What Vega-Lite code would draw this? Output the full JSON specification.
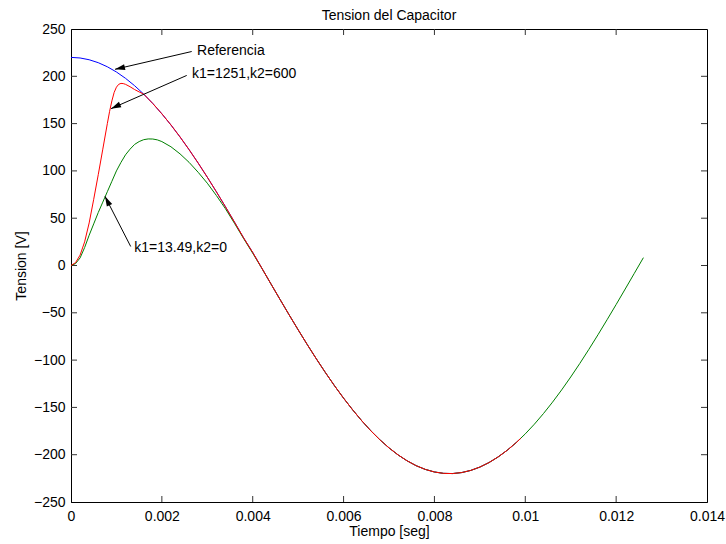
{
  "$schema": "https://vega.github.io/schema/vega-lite/v6.json",
  "width": 636,
  "height": 473,
  "autosize": "none",
  "padding": {"left": 71, "top": 29, "right": 19, "bottom": 42},
  "title": {"text": "Tension del Capacitor", "font": "Liberation Sans", "fontSize": 14, "fontWeight": "normal", "color": "black", "offset": -1},
  "config": {
    "view": {"stroke": "black", "strokeWidth": 1},
    "axis": {"labelFont": "Liberation Sans", "labelFontSize": 14, "grid": false}
  },
  "datasets": {
    "ref": [
      {"t": 0, "v": 220}, {"t": 0.0002, "v": 219.37}, {"t": 0.0004, "v": 217.5}, {"t": 0.0006, "v": 214.4}, {"t": 0.0008, "v": 210.07},
      {"t": 0.001, "v": 204.55}, {"t": 0.0012, "v": 197.87}, {"t": 0.0014, "v": 190.06}, {"t": 0.0016, "v": 181.18}, {"t": 0.0018, "v": 171.27},
      {"t": 0.002, "v": 160.37}, {"t": 0.0022, "v": 148.56}, {"t": 0.0024, "v": 135.89}, {"t": 0.0026, "v": 122.42}, {"t": 0.0028, "v": 108.23},
      {"t": 0.003, "v": 93.38}, {"t": 0.0032, "v": 77.97}, {"t": 0.0034, "v": 62.06}, {"t": 0.0036, "v": 45.76}, {"t": 0.0038, "v": 29.15},
      {"t": 0.004, "v": 13.81}, {"t": 0.0042, "v": -2.77}, {"t": 0.0044, "v": -19.33}, {"t": 0.0046, "v": -35.79}, {"t": 0.0048, "v": -52.03},
      {"t": 0.005, "v": -67.98}, {"t": 0.0052, "v": -83.55}, {"t": 0.0054, "v": -98.65}, {"t": 0.0056, "v": -113.17}, {"t": 0.0058, "v": -127.09},
      {"t": 0.006, "v": -140.23}, {"t": 0.0062, "v": -152.59}, {"t": 0.0064, "v": -164.12}, {"t": 0.0066, "v": -174.72}, {"t": 0.0068, "v": -184.25},
      {"t": 0.007, "v": -192.79}, {"t": 0.0072, "v": -200.22}, {"t": 0.0074, "v": -206.51}, {"t": 0.0076, "v": -211.68}, {"t": 0.0078, "v": -215.56},
      {"t": 0.008, "v": -218.26}, {"t": 0.0082, "v": -219.74}, {"t": 0.0084, "v": -219.93}, {"t": 0.0086, "v": -218.89}, {"t": 0.0088, "v": -216.61},
      {"t": 0.009, "v": -213.09}, {"t": 0.0092, "v": -208.36}, {"t": 0.0094, "v": -202.44}, {"t": 0.0096, "v": -195.38}, {"t": 0.0098, "v": -187.22},
      {"t": 0.0099, "v": -182.73}
    ],
    "green": [
      {"t": 0, "v": 0}, {"t": 0.0001, "v": 2}, {"t": 0.0002, "v": 8}, {"t": 0.0003, "v": 19}, {"t": 0.0004, "v": 32},
      {"t": 0.0005, "v": 44}, {"t": 0.0006, "v": 56}, {"t": 0.0007, "v": 67}, {"t": 0.0008, "v": 78}, {"t": 0.0009, "v": 89},
      {"t": 0.001, "v": 100}, {"t": 0.0011, "v": 109}, {"t": 0.0012, "v": 117}, {"t": 0.0013, "v": 123}, {"t": 0.0014, "v": 128},
      {"t": 0.0015, "v": 131}, {"t": 0.0016, "v": 133}, {"t": 0.0017, "v": 133.8}, {"t": 0.0018, "v": 133.7}, {"t": 0.0019, "v": 132.8},
      {"t": 0.002, "v": 131}, {"t": 0.0022, "v": 125.5}, {"t": 0.0024, "v": 118}, {"t": 0.0026, "v": 109}, {"t": 0.0028, "v": 98.5},
      {"t": 0.003, "v": 87}, {"t": 0.0032, "v": 74}, {"t": 0.0034, "v": 60}, {"t": 0.0036, "v": 44.5}, {"t": 0.0038, "v": 28.5},
      {"t": 0.004, "v": 13}, {"t": 0.0042, "v": -2.9}, {"t": 0.0044, "v": -19.4}, {"t": 0.0046, "v": -35.79}, {"t": 0.0048, "v": -52.03},
      {"t": 0.005, "v": -67.98}, {"t": 0.0052, "v": -83.55}, {"t": 0.0054, "v": -98.65}, {"t": 0.0056, "v": -113.17}, {"t": 0.0058, "v": -127.09},
      {"t": 0.006, "v": -140.23}, {"t": 0.0062, "v": -152.59}, {"t": 0.0064, "v": -164.12}, {"t": 0.0066, "v": -174.72}, {"t": 0.0068, "v": -184.25},
      {"t": 0.007, "v": -192.79}, {"t": 0.0072, "v": -200.22}, {"t": 0.0074, "v": -206.51}, {"t": 0.0076, "v": -211.68}, {"t": 0.0078, "v": -215.56},
      {"t": 0.008, "v": -218.26}, {"t": 0.0082, "v": -219.74}, {"t": 0.0084, "v": -219.93}, {"t": 0.0086, "v": -218.89}, {"t": 0.0088, "v": -216.61},
      {"t": 0.009, "v": -213.09}, {"t": 0.0092, "v": -208.36}, {"t": 0.0094, "v": -202.44}, {"t": 0.0096, "v": -195.38}, {"t": 0.0098, "v": -187.22},
      {"t": 0.01, "v": -177.98}, {"t": 0.0102, "v": -167.75}, {"t": 0.0104, "v": -156.53}, {"t": 0.0106, "v": -144.45}, {"t": 0.0108, "v": -131.54},
      {"t": 0.011, "v": -117.88}, {"t": 0.0112, "v": -103.55}, {"t": 0.0114, "v": -88.64}, {"t": 0.0116, "v": -73.22}, {"t": 0.0118, "v": -57.38},
      {"t": 0.012, "v": -41.23}, {"t": 0.0122, "v": -24.84}, {"t": 0.0124, "v": -8.29}, {"t": 0.0126, "v": 8.29}
    ],
    "red": [
      {"t": 0, "v": 0}, {"t": 0.0001, "v": 3}, {"t": 0.0002, "v": 11}, {"t": 0.0003, "v": 25}, {"t": 0.0004, "v": 45},
      {"t": 0.0005, "v": 70}, {"t": 0.0006, "v": 96}, {"t": 0.0007, "v": 123}, {"t": 0.0008, "v": 150}, {"t": 0.00085, "v": 163},
      {"t": 0.0009, "v": 174}, {"t": 0.00095, "v": 183}, {"t": 0.001, "v": 188.5}, {"t": 0.00105, "v": 191.5}, {"t": 0.0011, "v": 192.5},
      {"t": 0.00115, "v": 192.3}, {"t": 0.0012, "v": 191.5}, {"t": 0.0013, "v": 189}, {"t": 0.0014, "v": 186}, {"t": 0.0015, "v": 183.5},
      {"t": 0.0016, "v": 181.18}, {"t": 0.0018, "v": 171.27},
      {"t": 0.002, "v": 160.37}, {"t": 0.0022, "v": 148.56}, {"t": 0.0024, "v": 135.89}, {"t": 0.0026, "v": 122.42}, {"t": 0.0028, "v": 108.23},
      {"t": 0.003, "v": 93.38}, {"t": 0.0032, "v": 77.97}, {"t": 0.0034, "v": 62.06}, {"t": 0.0036, "v": 45.76}, {"t": 0.0038, "v": 29.15},
      {"t": 0.004, "v": 13.81}, {"t": 0.0042, "v": -2.77}, {"t": 0.0044, "v": -19.33}, {"t": 0.0046, "v": -35.79}, {"t": 0.0048, "v": -52.03},
      {"t": 0.005, "v": -67.98}, {"t": 0.0052, "v": -83.55}, {"t": 0.0054, "v": -98.65}, {"t": 0.0056, "v": -113.17}, {"t": 0.0058, "v": -127.09},
      {"t": 0.006, "v": -140.23}, {"t": 0.0062, "v": -152.59}, {"t": 0.0064, "v": -164.12}, {"t": 0.0066, "v": -174.72}, {"t": 0.0068, "v": -184.25},
      {"t": 0.007, "v": -192.79}, {"t": 0.0072, "v": -200.22}, {"t": 0.0074, "v": -206.51}, {"t": 0.0076, "v": -211.68}, {"t": 0.0078, "v": -215.56},
      {"t": 0.008, "v": -218.26}, {"t": 0.0082, "v": -219.74}, {"t": 0.0084, "v": -219.93}, {"t": 0.0086, "v": -218.89}, {"t": 0.0088, "v": -216.61},
      {"t": 0.009, "v": -213.09}, {"t": 0.0092, "v": -208.36}, {"t": 0.0094, "v": -202.44}, {"t": 0.0096, "v": -195.38}, {"t": 0.0098, "v": -187.22},
      {"t": 0.0099, "v": -182.73}
    ],
    "notes": [
      {"label": "Referencia", "tx": 0.002752, "tv": 226.5, "t1": 0.002657, "v1": 226.2, "t2": 0.000969, "v2": 207.4},
      {"label": "k1=1251,k2=600", "tx": 0.002642, "tv": 202.1, "t1": 0.002547, "v1": 200.9, "t2": 0.000881, "v2": 165.8},
      {"label": "k1=13.49,k2=0", "tx": 0.001371, "tv": 18.4, "t1": 0.001314, "v1": 20.1, "t2": 0.000748, "v2": 73.1}
    ],
    "xticks": [
      {"t": 0.002, "v": -250}, {"t": 0.004, "v": -250}, {"t": 0.006, "v": -250}, {"t": 0.008, "v": -250}, {"t": 0.01, "v": -250}, {"t": 0.012, "v": -250},
      {"t": 0.002, "v": 250}, {"t": 0.004, "v": 250}, {"t": 0.006, "v": 250}, {"t": 0.008, "v": 250}, {"t": 0.01, "v": 250}, {"t": 0.012, "v": 250}
    ],
    "yticks": [
      {"t": 0, "v": -200}, {"t": 0, "v": -150}, {"t": 0, "v": -100}, {"t": 0, "v": -50}, {"t": 0, "v": 0}, {"t": 0, "v": 50}, {"t": 0, "v": 100}, {"t": 0, "v": 150}, {"t": 0, "v": 200},
      {"t": 0.014, "v": -200}, {"t": 0.014, "v": -150}, {"t": 0.014, "v": -100}, {"t": 0.014, "v": -50}, {"t": 0.014, "v": 0}, {"t": 0.014, "v": 50}, {"t": 0.014, "v": 100}, {"t": 0.014, "v": 150}, {"t": 0.014, "v": 200}
    ]
  },
  "layer": [
    {
      "data": {"name": "ref"},
      "mark": {"type": "line", "color": "#0000ff", "strokeWidth": 1},
      "encoding": {
        "x": {"field": "t", "type": "quantitative", "scale": {"domain": [0, 0.014], "nice": false, "zero": false},
              "axis": {"orient": "bottom", "values": [0, 0.002, 0.004, 0.006, 0.008, 0.01, 0.012, 0.014], "format": "~g", "title": "Tiempo [seg]", "ticks": false, "tickSize": 0, "labelPadding": 7, "titlePadding": 1, "titleFont": "Liberation Sans", "titleFontSize": 14, "titleFontWeight": "normal", "titleColor": "black", "labelColor": "black", "domainColor": "black", "labelFlush": false, "labelOverlap": false}},
        "y": {"field": "v", "type": "quantitative", "scale": {"domain": [-250, 250], "nice": false, "zero": false},
              "axis": {"orient": "left", "values": [-250, -200, -150, -100, -50, 0, 50, 100, 150, 200, 250], "format": "d", "title": "Tension [V]", "ticks": false, "tickSize": 0, "labelPadding": 6, "titlePadding": 5, "titleFont": "Liberation Sans", "titleFontSize": 14, "titleFontWeight": "normal", "titleColor": "black", "labelColor": "black", "domainColor": "black", "labelFlush": false, "labelOverlap": false}}
      }
    },
    {
      "data": {"name": "xticks"},
      "mark": {"type": "tick", "orient": "vertical", "size": 12, "thickness": 1, "color": "#333333", "opacity": 1, "clip": true},
      "encoding": {
        "x": {"field": "t", "type": "quantitative", "axis": null},
        "y": {"field": "v", "type": "quantitative", "axis": null}
      }
    },
    {
      "data": {"name": "yticks"},
      "mark": {"type": "tick", "orient": "horizontal", "size": 12, "thickness": 1, "color": "#333333", "opacity": 1, "clip": true},
      "encoding": {
        "x": {"field": "t", "type": "quantitative", "axis": null},
        "y": {"field": "v", "type": "quantitative", "axis": null}
      }
    },
    {
      "data": {"name": "green"},
      "mark": {"type": "line", "color": "#008000", "strokeWidth": 1},
      "encoding": {
        "x": {"field": "t", "type": "quantitative", "axis": null},
        "y": {"field": "v", "type": "quantitative", "axis": null}
      }
    },
    {
      "data": {"name": "red"},
      "mark": {"type": "line", "color": "#ff0000", "strokeWidth": 1},
      "encoding": {
        "x": {"field": "t", "type": "quantitative", "axis": null},
        "y": {"field": "v", "type": "quantitative", "axis": null}
      }
    },
    {
      "data": {"name": "notes"},
      "mark": {"type": "rule", "color": "black", "strokeWidth": 1},
      "encoding": {
        "x": {"field": "t1", "type": "quantitative", "axis": null},
        "y": {"field": "v1", "type": "quantitative", "axis": null},
        "x2": {"field": "t2"},
        "y2": {"field": "v2"}
      }
    },
    {
      "data": {"name": "notes"},
      "transform": [{"filter": "datum.label === 'Referencia'"}],
      "mark": {"type": "point", "shape": "M0,0L-1,-0.3L-1,0.3Z", "filled": true, "color": "black", "opacity": 1, "size": 400, "angle": 167, "strokeWidth": 0},
      "encoding": {
        "x": {"field": "t2", "type": "quantitative", "axis": null},
        "y": {"field": "v2", "type": "quantitative", "axis": null}
      }
    },
    {
      "data": {"name": "notes"},
      "transform": [{"filter": "datum.label === 'k1=1251,k2=600'"}],
      "mark": {"type": "point", "shape": "M0,0L-1,-0.3L-1,0.3Z", "filled": true, "color": "black", "opacity": 1, "size": 400, "angle": 156, "strokeWidth": 0},
      "encoding": {
        "x": {"field": "t2", "type": "quantitative", "axis": null},
        "y": {"field": "v2", "type": "quantitative", "axis": null}
      }
    },
    {
      "data": {"name": "notes"},
      "transform": [{"filter": "datum.label === 'k1=13.49,k2=0'"}],
      "mark": {"type": "point", "shape": "M0,0L-1,-0.3L-1,0.3Z", "filled": true, "color": "black", "opacity": 1, "size": 400, "angle": 243, "strokeWidth": 0},
      "encoding": {
        "x": {"field": "t2", "type": "quantitative", "axis": null},
        "y": {"field": "v2", "type": "quantitative", "axis": null}
      }
    },
    {
      "data": {"name": "notes"},
      "mark": {"type": "text", "align": "left", "baseline": "middle", "font": "Liberation Sans", "fontSize": 14, "color": "black", "dx": 1},
      "encoding": {
        "x": {"field": "tx", "type": "quantitative", "axis": null},
        "y": {"field": "tv", "type": "quantitative", "axis": null},
        "text": {"field": "label"}
      }
    }
  ],
  "resolve": {"axis": {"x": "independent", "y": "independent"}}
}
